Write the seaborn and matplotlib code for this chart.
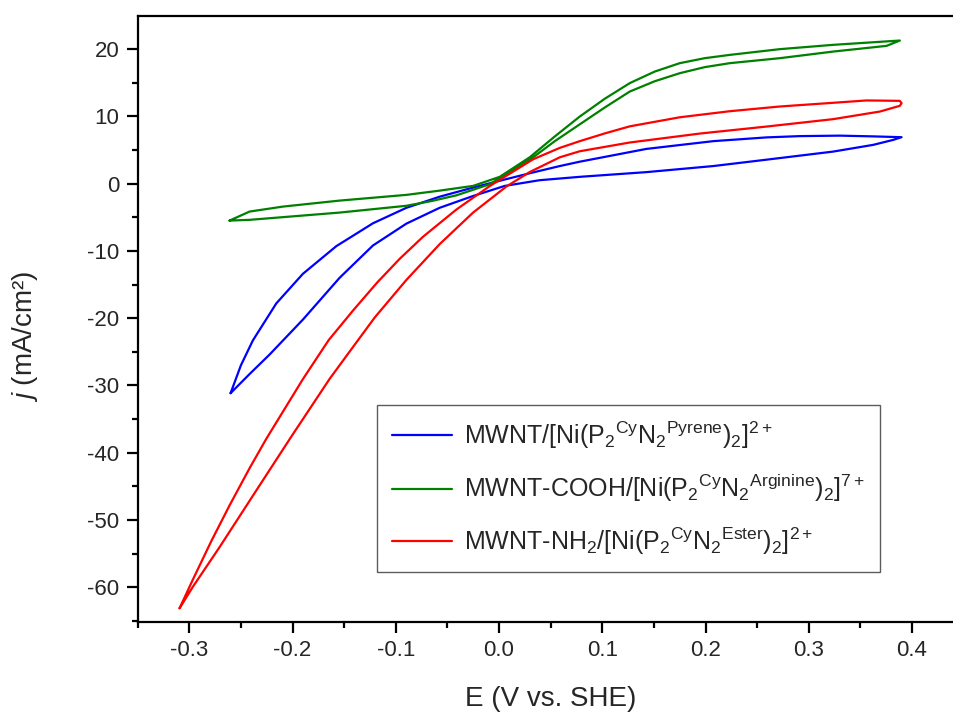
import numpy as np
import pandas as pd
import matplotlib
matplotlib.use("Agg")
import matplotlib.pyplot as plt
import seaborn as sns
from matplotlib.ticker import MultipleLocator

# ---- data (E in V vs SHE, j in mA/cm^2), closed CV loops ----
blue_E = [-0.2600, -0.2500, -0.2384, -0.2157, -0.1899, -0.1576, -0.1221, -0.0897, -0.0575, -0.0252,
          0.0055, 0.0329, 0.0588, 0.0782, 0.1428, 0.2074, 0.2591, 0.2914, 0.3302, 0.3624, 0.3899,
          0.3818, 0.3624, 0.3236, 0.2591, 0.2074, 0.1428, 0.0782, 0.0394, 0.0055, -0.0252,
          -0.0575, -0.0897, -0.1221, -0.1544, -0.1899, -0.2222, -0.2416, -0.2600]
blue_j = [-31.14, -27.00, -23.30, -17.80, -13.40, -9.30, -5.90, -3.60, -1.95, -0.60,
          0.60, 1.65, 2.60, 3.25, 5.15, 6.30, 6.86, 7.05, 7.12, 7.01, 6.89,
          6.49, 5.75, 4.75, 3.55, 2.60, 1.70, 1.00, 0.50, -0.35, -1.85,
          -3.60, -5.95, -9.20, -14.00, -20.20, -25.40, -28.30, -31.14]

green_E = [-0.2610, -0.2416, -0.2093, -0.1544, -0.0897, -0.0575, -0.0252, 0.0007, 0.0297,
           0.0540, 0.0782, 0.1024, 0.1266, 0.1508, 0.1751, 0.1993, 0.2236, 0.2720, 0.3236, 0.3882,
           0.3754, 0.3236, 0.2720, 0.2236, 0.1993, 0.1751, 0.1508, 0.1266, 0.1024, 0.0782,
           0.0540, 0.0297, -0.0090, -0.0413, -0.0655, -0.0897, -0.1544, -0.2416, -0.2610]
green_j = [-5.50, -4.16, -3.42, -2.53, -1.68, -1.05, -0.35, 1.00, 3.90,
           7.00, 9.96, 12.60, 14.92, 16.64, 17.89, 18.63, 19.12, 19.97, 20.61, 21.25,
           20.46, 19.61, 18.63, 17.89, 17.30, 16.40, 15.20, 13.67, 11.30, 8.80,
           6.30, 3.52, -0.10, -1.75, -2.60, -3.30, -4.31, -5.39, -5.50]

red_E = [-0.3094, -0.2965, -0.2787, -0.2609, -0.2416, -0.2254, -0.1899, -0.1650, -0.1415, -0.1180,
         -0.0962, -0.0736, -0.0413, -0.0090, 0.0329, 0.0588, 0.0782, 0.1024, 0.1266, 0.1751, 0.2236,
         0.2720, 0.3236, 0.3560, 0.3882, 0.3899,
         0.3882, 0.3689, 0.3236, 0.2591, 0.1945, 0.1266, 0.0782, 0.0588, 0.0297, 0.0072,
         -0.0252, -0.0575, -0.0897, -0.1204, -0.1420, -0.1640, -0.2012, -0.2351, -0.2706,
         -0.2965, -0.3094]
red_j = [-63.09, -58.83, -53.13, -47.79, -42.29, -37.92, -29.04, -23.26, -18.88, -14.70,
         -11.18, -7.90, -3.86, -0.37, 3.60, 5.30, 6.30, 7.45, 8.50, 9.85, 10.75,
         11.45, 12.00, 12.35, 12.29, 11.95,
         11.55, 10.70, 9.57, 8.47, 7.43, 6.10, 4.80, 3.90, 1.71, -0.43,
         -4.32, -9.00, -14.31, -19.90, -24.40, -29.00, -37.60, -45.60, -54.00,
         -59.90, -63.09]

labels = [
    r'MWNT/[Ni(P$_2$$^{\rm Cy}$N$_2$$^{\rm Pyrene}$)$_2$]$^{2+}$',
    r'MWNT-COOH/[Ni(P$_2$$^{\rm Cy}$N$_2$$^{\rm Arginine}$)$_2$]$^{7+}$',
    r'MWNT-NH$_2$/[Ni(P$_2$$^{\rm Cy}$N$_2$$^{\rm Ester}$)$_2$]$^{2+}$',
]
colors = ['#0000FF', '#008000', '#FF0000']

xticks = [-0.3, -0.2, -0.1, 0.0, 0.1, 0.2, 0.3, 0.4]
xticklabels = ['-0.3', '-0.2', '-0.1', '0.0', '0.1', '0.2', '0.3', '0.4']
yticks = [-60, -50, -40, -30, -20, -10, 0, 10, 20]
yticklabels = ['-60', '-50', '-40', '-30', '-20', '-10', '0', '10', '20']

sns.set_theme(style="ticks")
plt.rcParams['font.family'] = ['Liberation Sans', 'DejaVu Sans']
plt.rcParams['mathtext.fontset'] = 'custom'
plt.rcParams['mathtext.rm'] = 'Liberation Sans'
plt.rcParams['mathtext.it'] = 'Liberation Sans:italic'
plt.rcParams['mathtext.bf'] = 'Liberation Sans:bold'

fig = plt.figure(figsize=(9.54, 7.13), dpi=100)
ax = fig.add_axes([0.1443, 0.128, 0.8658, 0.8496])

for E, j, lab, c in zip([blue_E, green_E, red_E], [blue_j, green_j, red_j], labels, colors):
    df = pd.DataFrame({'E': E, 'j': j})
    sns.lineplot(data=df, x='E', y='j', sort=False, estimator=None, color=c,
                 linewidth=1.6, label=lab, ax=ax)

ax.set_xlim(-0.35, 0.45)
ax.set_ylim(-65.1, 24.9)
ax.xaxis.set_minor_locator(MultipleLocator(0.05))
ax.yaxis.set_minor_locator(MultipleLocator(5))
ax.set_xticks(xticks)
ax.set_xticklabels(xticklabels)
ax.set_yticks(yticks)
ax.set_yticklabels(yticklabels)

for s in ax.spines.values():
    s.set_linewidth(1.6)
    s.set_color('black')
ax.tick_params(which='major', direction='out', length=8, width=1.6, labelsize=16, pad=5, color='black')
ax.tick_params(which='minor', direction='out', length=4.5, width=1.6, color='black')

ax.set_xlabel('E (V vs. SHE)', fontsize=20)
ax.set_ylabel(r'$j$ (mA/cm²)', fontsize=20)
ax.xaxis.set_label_coords(0.5, -0.106)
ax.yaxis.set_label_coords(-0.118, 0.472)

leg = ax.legend(loc='lower right', bbox_to_anchor=(0.8987, 0.0821), borderaxespad=0,
                fontsize=18, frameon=True, fancybox=False, handlelength=2.4,
                handletextpad=0.5, labelspacing=0.85, borderpad=0.6)
leg.get_frame().set_edgecolor('#333333')
leg.get_frame().set_linewidth(1.0)
for h in leg.get_lines():
    h.set_linewidth(1.6)

fig.savefig('out.png', dpi=100)
